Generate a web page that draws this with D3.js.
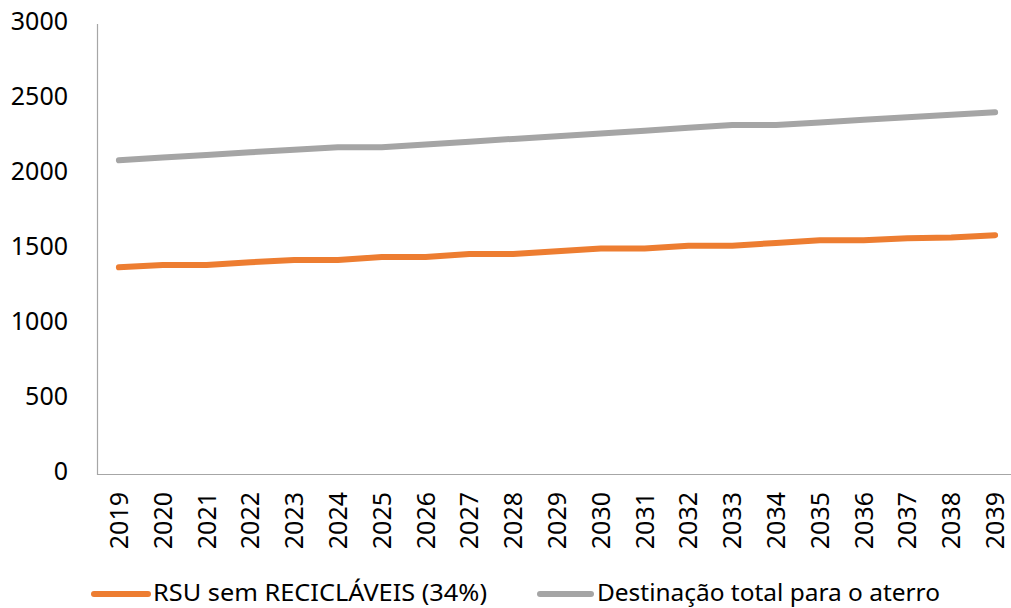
<!DOCTYPE html>
<html>
<head>
<meta charset="utf-8">
<script src="https://cdn.jsdelivr.net/npm/d3@7"></script>
<style>
  html, body { margin: 0; padding: 0; background: #fff; }
  svg { display: block; font-family: "Noto Sans", "Open Sans", sans-serif; }
</style>
</head>
<body>
<svg id="chart" width="1011" height="608"></svg>
<script>
// Years on the category axis
const years = ["2019","2020","2021","2022","2023","2024","2025","2026","2027","2028",
               "2029","2030","2031","2032","2033","2034","2035","2036","2037","2038","2039"];

// RSU sem recicláveis (34%)
const rsuSemReciclaveis = [1378, 1394, 1394, 1412, 1426, 1426, 1446, 1446, 1467, 1467,
                           1485, 1503, 1503, 1522, 1522, 1540, 1558, 1558, 1572, 1576, 1592];

// Destinação total para o aterro
const destinacaoTotal = [2092, 2110, 2127, 2145, 2162, 2178, 2178, 2197, 2215, 2234,
                         2252, 2270, 2289, 2308, 2326, 2326, 2344, 2361, 2378, 2395, 2411];

const yTicks = [0, 500, 1000, 1500, 2000, 2500, 3000];

const seriesNames = ["RSU sem RECICLÁVEIS (34%)", "Destinação total para o aterro"];
const seriesColors = ["#ED7D31", "#A5A5A5"];

const svg = d3.select("#chart");

const x = d3.scalePoint()
  .domain(years)
  .range([97, 1017])
  .padding(0.5);

const y = d3.scaleLinear()
  .domain([0, 3000])
  .range([474, 24]);

// Axis lines
svg.append("line")
  .attr("x1", 97).attr("x2", 1011)
  .attr("y1", y(0) + 0.5).attr("y2", y(0) + 0.5)
  .attr("stroke", "#A6A6A6").attr("stroke-width", 1.2);
svg.append("line")
  .attr("x1", 97.5).attr("x2", 97.5)
  .attr("y1", y(3000)).attr("y2", y(0) + 1)
  .attr("stroke", "#A6A6A6").attr("stroke-width", 1.2);

// Value labels on the left
svg.append("g")
  .selectAll("text")
  .data(yTicks)
  .join("text")
  .attr("x", 68)
  .attr("y", d => y(d) - 3)
  .attr("dy", "0.36em")
  .attr("text-anchor", "end")
  .attr("font-size", 25)
  .attr("fill", "#000")
  .text(d => d);

// Year labels, rotated
svg.append("g")
  .selectAll("text")
  .data(years)
  .join("text")
  .attr("transform", d => `translate(${x(d)},${y(0) + 18}) rotate(-90)`)
  .attr("text-anchor", "end")
  .attr("dy", "0.36em")
  .attr("font-size", 25)
  .attr("fill", "#000")
  .text(d => d);

// Series lines
const line = d3.line()
  .x((d, i) => x(years[i]))
  .y(d => y(d));

[rsuSemReciclaveis, destinacaoTotal].forEach((values, k) => {
  svg.append("path")
    .datum(values)
    .attr("d", line)
    .attr("fill", "none")
    .attr("stroke", seriesColors[k])
    .attr("stroke-width", 6)
    .attr("stroke-linecap", "round")
    .attr("stroke-linejoin", "round");
});

// Legend
const legendItems = [
  { x1: 94, x2: 148, tx: 153, tw: 334 },
  { x1: 540, x2: 591, tx: 597, tw: 343 }
];
legendItems.forEach((it, k) => {
  svg.append("line")
    .attr("x1", it.x1).attr("x2", it.x2)
    .attr("y1", 594).attr("y2", 594)
    .attr("stroke", seriesColors[k])
    .attr("stroke-width", 6)
    .attr("stroke-linecap", "round");
  svg.append("text")
    .attr("x", it.tx)
    .attr("y", 593)
    .attr("dy", "0.36em")
    .attr("font-size", 23)
    .attr("fill", "#000")
    .attr("textLength", it.tw)
    .attr("lengthAdjust", "spacingAndGlyphs")
    .text(seriesNames[k]);
});
</script>
</body>
</html>
